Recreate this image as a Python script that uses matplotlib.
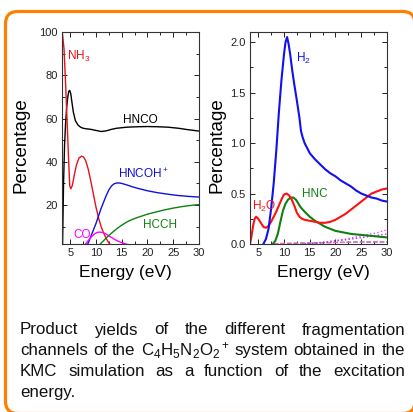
import matplotlib
matplotlib.use("Agg")
import matplotlib.pyplot as plt
from matplotlib.patches import FancyBboxPatch
from matplotlib.ticker import MultipleLocator

plt.rcParams['font.family'] = ['Liberation Sans', 'DejaVu Sans']
plt.rcParams['mathtext.fontset'] = 'custom'
plt.rcParams['mathtext.rm'] = 'Liberation Sans'
plt.rcParams['mathtext.it'] = 'Liberation Sans:italic'
plt.rcParams['mathtext.bf'] = 'Liberation Sans:bold'

# ---------------- data: left panel ----------------
E_nh3 = [3.5, 3.8, 4.1, 4.4, 4.7, 4.9, 5.1, 5.4, 5.8, 6.2, 6.7, 7.2, 7.6, 8.0, 8.5,
         9.0, 9.5, 10.0, 10.5, 11.0, 11.5, 12.0, 12.5, 13.0, 13.5]
nh3 = [99, 92, 76, 58, 40, 29, 27.5, 29, 34, 38.5, 41.8, 42.6, 42.2, 40.5, 36.5,
       31, 25, 19, 14, 10, 7, 4.5, 2.5, 1.2, 0.5]

E_hnco = [3.5, 3.6, 3.7, 3.9, 4.1, 4.3, 4.5, 4.7, 4.9, 5.1, 5.3, 5.6, 6.0, 6.5, 7.0,
          7.5, 8.0, 9.0, 10.0, 11.0, 12.0, 13.0, 14.0, 16.0, 18.0, 20.0, 22.0, 24.0,
          26.0, 28.0, 30.0]
hnco = [0, 15, 30, 48, 58, 65, 69.5, 72.5, 73, 71.5, 68, 63, 59, 57, 56,
        55.5, 55.3, 55, 54.5, 54, 54.3, 55, 55.5, 56, 56.2, 56.3, 56.2, 56,
        55.5, 54.8, 54.2]

E_hncoh = [8.0, 8.5, 9.0, 9.5, 10.0, 10.5, 11.0, 11.5, 12.0, 12.5, 13.0, 13.5, 14.0,
           14.5, 15.0, 16, 17, 18, 19, 20, 22, 24, 26, 28, 30]
hncoh = [0, 2.5, 5.5, 8.5, 11.5, 15, 18.5, 21.5, 24.5, 27, 28.8, 29.8, 30.2,
         30.2, 30.0, 29.3, 28.5, 27.8, 27.2, 26.6, 25.7, 25, 24.4, 24, 23.7]

E_co = [7.3, 7.8, 8.3, 8.8, 9.3, 9.8, 10.3, 10.8, 11.3, 11.8, 12.3, 12.8, 13.3, 13.8,
        14.3, 14.8, 15.3, 15.8, 16.3]
co = [0, 1.5, 3.0, 4.5, 5.8, 6.8, 7.4, 7.5, 7.3, 6.8, 6.1, 5.3, 4.6, 3.9,
      3.3, 2.8, 2.4, 2.0, 1.7]

E_hcch = [10.0, 10.5, 11, 11.5, 12, 13, 14, 15, 16, 17, 18, 19, 20, 21, 22, 23, 24,
          25, 26, 27, 28, 29, 30]
hcch = [0, 1.2, 2.4, 3.6, 4.8, 7, 9, 10.7, 12.2, 13.3, 14.2, 15.0, 15.8, 16.4, 17.0,
        17.6, 18.1, 18.6, 19.0, 19.4, 19.7, 20.0, 20.2]

# ---------------- data: right panel ----------------
E_h2 = [6.0, 6.5, 7.0, 7.5, 8.0, 8.5, 9.0, 9.5, 10.0, 10.3, 10.6, 10.9, 11.2, 11.6,
        12.0, 12.5, 13.0, 13.3, 13.6, 14, 15, 16, 17, 18, 19, 20, 21, 22, 23, 24,
        25, 26, 27, 28, 29, 30]
h2 = [0, 0.05, 0.15, 0.35, 0.6, 0.92, 1.3, 1.62, 1.88, 2.0, 2.05, 1.98, 1.88, 1.72,
      1.58, 1.42, 1.25, 1.12, 1.06, 1.0, 0.9, 0.84, 0.79, 0.74, 0.70, 0.67, 0.63,
      0.60, 0.57, 0.53, 0.50, 0.48, 0.46, 0.45, 0.43, 0.42]

E_h2o = [3.4, 3.7, 4.0, 4.3, 4.6, 5.0, 5.5, 6.0, 6.5, 7.0, 7.5, 8.0, 8.5, 9.0, 9.5,
         10.0, 10.5, 11.0, 11.5, 12.0, 12.5, 13.0, 13.5, 14, 15, 16, 17, 18, 19, 20,
         21, 22, 23, 24, 25, 26, 27, 28, 29, 30]
h2o = [0, 0.08, 0.18, 0.25, 0.27, 0.25, 0.21, 0.17, 0.16, 0.18, 0.22, 0.27, 0.32,
       0.38, 0.44, 0.49, 0.50, 0.48, 0.44, 0.38, 0.31, 0.27, 0.25, 0.24, 0.23, 0.22,
       0.21, 0.21, 0.22, 0.24, 0.27, 0.30, 0.34, 0.38, 0.42, 0.46, 0.50, 0.52, 0.54,
       0.55]

E_hnc = [7.8, 8.3, 8.8, 9.3, 9.8, 10.3, 10.8, 11.3, 11.8, 12.3, 12.8, 13.3, 14, 15,
         16, 17, 18, 19, 20, 21, 22, 23, 24, 25, 26, 27, 28, 29, 30]
hnc = [0, 0.03, 0.1, 0.22, 0.33, 0.40, 0.44, 0.46, 0.46, 0.44, 0.40, 0.36, 0.32,
       0.27, 0.23, 0.2, 0.17, 0.15, 0.13, 0.12, 0.11, 0.10, 0.095, 0.09, 0.085,
       0.08, 0.075, 0.07, 0.065]

E_minor_a = [14, 16, 18, 20, 22, 24, 26, 28, 30]
minor_a = [0.0, 0.01, 0.02, 0.035, 0.05, 0.07, 0.09, 0.11, 0.14]
minor_b = [0.0, 0.008, 0.017, 0.03, 0.042, 0.056, 0.07, 0.085, 0.1]
E_minor_c = [8, 12, 16, 20, 24, 28, 30]
minor_c = [0, 0.005, 0.01, 0.015, 0.02, 0.02, 0.02]
minor_d = [0.004, 0.01, 0.012, 0.015, 0.018, 0.02, 0.022]

caption_lines = [
    ["Product", "yields", "of", "the", "different", "fragmentation"],
    ["channels", "of", "the", r"C$_4$H$_5$N$_2$O$_2$$^+$", "system", "obtained", "in", "the"],
    ["KMC", "simulation", "as", "a", "function", "of", "the", "excitation"],
    ["energy."],
]

# ---------------- figure ----------------
W, H = 413, 412
fig = plt.figure(figsize=(W / 100, H / 100), dpi=100)
fig.patch.set_facecolor('white')

def fx(px):
    return px / W

def fy(py):
    return 1 - py / H

# orange rounded frame (right and bottom edges run off the image)
frame = FancyBboxPatch((fx(5.5), fy(413.5)), fx(415) - fx(5.5), fy(11.5) - fy(413.5),
                       boxstyle="round,pad=0,rounding_size=0.03",
                       transform=fig.transFigure, facecolor='white',
                       edgecolor='#ff8000', linewidth=2.3, clip_on=False, zorder=0)
fig.add_artist(frame)

axL = fig.add_axes([fx(62), fy(244), fx(199) - fx(62), fy(32) - fy(244)])
axR = fig.add_axes([fx(250), fy(244), fx(387) - fx(250), fy(32) - fy(244)])

for ax in (axL, axR):
    ax.set_facecolor('none')
    ax.tick_params(which='both', direction='in', top=True, right=True,
                   labelsize=8, pad=3, width=0.7, colors='#222222')
    ax.tick_params(which='major', length=3.5)
    ax.tick_params(which='minor', length=2.5)
    for s in ax.spines.values():
        s.set_linewidth(0.8)
        s.set_color('#333333')
    ax.set_xlim(3.4, 30)
    ax.xaxis.set_major_locator(MultipleLocator(5))
    ax.xaxis.set_minor_locator(MultipleLocator(2.5))

# left panel
axL.plot(E_hnco, hnco, color='black', lw=1.0)
axL.plot(E_nh3, nh3, color='#e8101a', lw=1.0)
axL.plot(E_hncoh, hncoh, color='#1010e0', lw=1.0)
axL.plot(E_co, co, color='#ff00ff', lw=1.0)
axL.plot(E_hcch, hcch, color='#108010', lw=1.0)
axL.set_ylim(2, 100)
axL.set_yticks([20, 40, 60, 80, 100])
axL.yaxis.set_minor_locator(MultipleLocator(10))

lab = dict(fontsize=8.5, va='baseline')
axL.text(4.42, 87.0, r'NH$_3$', color='#e8101a', ha='left', **lab)
axL.text(18.57, 57.9, 'HNCO', color='black', ha='center', **lab)
axL.text(19.15, 32.5, r'HNCOH$^+$', color='#1010e0', ha='center', **lab)
axL.text(22.5, 9.4, 'HCCH', color='#108010', ha='center', **lab)
axL.text(5.58, 4.7, 'CO', color='#ff00ff', ha='left', **lab)

# right panel
axR.plot(E_minor_c, minor_c, color='#20a0a0', lw=0.9, ls='--')
axR.plot(E_minor_c, minor_d, color='#ff60c0', lw=0.9, ls='--')
axR.plot(E_minor_a, minor_a, color='#ff40ff', lw=1.0, ls=':')
axR.plot(E_minor_a, minor_b, color='#9040d0', lw=1.0, ls=':')
axR.plot(E_hnc, hnc, color='#108010', lw=1.5)
axR.plot(E_h2o, h2o, color='#ff1010', lw=1.5)
axR.plot(E_h2, h2, color='#1010f0', lw=1.5)
axR.set_ylim(0, 2.1)
axR.set_yticks([0.0, 0.5, 1.0, 1.5, 2.0])
axR.set_yticklabels(['0.0', '0.5', '1.0', '1.5', '2.0'])
axR.yaxis.set_minor_locator(MultipleLocator(0.25))

axR.text(12.42, 1.80, r'H$_2$', color='#1010f0', ha='left', **lab)
axR.text(3.77, 0.337, r'H$_2$O', color='#ff1010', ha='left', **lab)
axR.text(13.4, 0.465, 'HNC', color='#108010', ha='left', **lab)

# axis labels
for cx in (21, 217):
    fig.text(fx(cx), fy(145), 'Percentage', rotation=90, ha='center', va='center',
             fontsize=13.5, color='black')
for cx in (125.5, 323.5):
    fig.text(fx(cx), fy(277), 'Energy (eV)', ha='center', va='baseline',
             fontsize=12.5, color='black')

# justified caption
renderer = fig.canvas.get_renderer()
left_px, right_px = 20, 405
baselines = [334.5, 355.2, 375.9, 396.6]
for li, (words, bl) in enumerate(zip(caption_lines, baselines)):
    texts = [fig.text(0, fy(bl), w, ha='left', va='baseline', fontsize=12.2,
                      color='#111111') for w in words]
    widths = [t.get_window_extent(renderer).width for t in texts]
    if len(words) > 1 and li < len(caption_lines) - 1:
        gap = (right_px - left_px - sum(widths)) / (len(words) - 1)
    else:
        gap = 4
    x = left_px
    for t, w in zip(texts, widths):
        t.set_x(fx(x))
        x += w + gap

fig.savefig('out.png', dpi=100, facecolor='white')
